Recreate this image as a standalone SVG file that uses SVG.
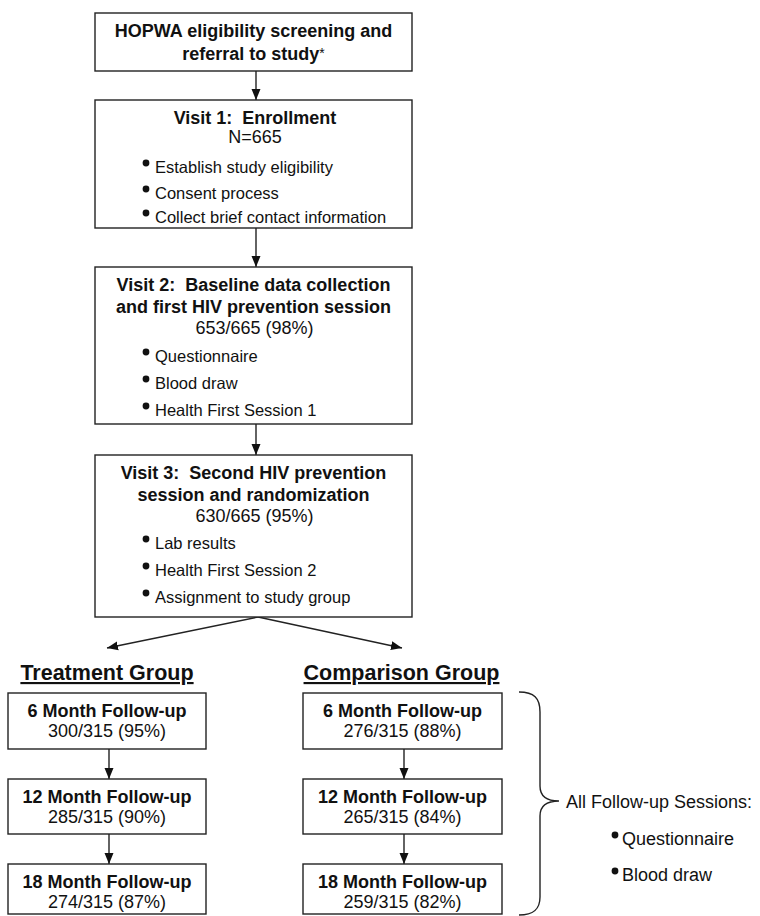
<svg xmlns="http://www.w3.org/2000/svg" width="760" height="916" viewBox="0 0 760 916">
<defs>
<marker id="ah" markerUnits="userSpaceOnUse" markerWidth="12" markerHeight="12" viewBox="0 0 12 12" refX="11" refY="6" orient="auto">
<path d="M0,1.5 L11,6 L0,10.5 Z" fill="#111"/>
</marker>
<style>
.box{fill:#fff;stroke:#222;stroke-width:1.4}
.t{font-family:"Liberation Sans",Arial,sans-serif;font-size:18px;font-weight:bold;fill:#111;text-anchor:middle}
.n{font-family:"Liberation Sans",Arial,sans-serif;font-size:18px;fill:#111;text-anchor:middle}
.b{font-family:"Liberation Sans",Arial,sans-serif;font-size:16.5px;fill:#111}
.h{font-family:"Liberation Sans",Arial,sans-serif;font-size:21.5px;font-weight:bold;fill:#111;text-anchor:middle;text-decoration:underline}
.l{font-family:"Liberation Sans",Arial,sans-serif;font-size:18px;fill:#111}
.c{stroke:#222;stroke-width:1.4;fill:none;marker-end:url(#ah)}
.dot{fill:#111}
</style>
</defs>
<rect width="760" height="916" fill="#fff"/>

<g id="connectors">
<line class="c" x1="256" y1="71" x2="256" y2="100"/>
<line class="c" x1="256" y1="228" x2="256" y2="267"/>
<line class="c" x1="256" y1="424" x2="256" y2="455"/>
<line class="c" x1="258" y1="617" x2="107" y2="648"/>
<line class="c" x1="258" y1="617" x2="402" y2="648"/>
<line class="c" x1="109" y1="749" x2="109" y2="779"/>
<line class="c" x1="109" y1="834" x2="109" y2="864"/>
<line class="c" x1="404" y1="749" x2="404" y2="779"/>
<line class="c" x1="404" y1="834" x2="404" y2="864"/>
</g>

<g id="screening">
<rect class="box" x="95" y="13" width="317" height="58"/>
<text class="t" x="253.5" y="37">HOPWA eligibility screening and</text>
<text class="t" x="253.5" y="60">referral to study<tspan font-weight="normal" font-size="14" dy="-2">*</tspan></text>
</g>

<g id="visit1">
<rect class="box" x="95" y="100" width="317" height="128"/>
<text class="t" x="255" y="124" xml:space="preserve">Visit 1:  Enrollment</text>
<text class="n" x="255" y="143">N=665</text>
<circle class="dot" cx="146" cy="163" r="3.4"/>
<text class="b" x="155" y="173">Establish study eligibility</text>
<circle class="dot" cx="146" cy="189" r="3.4"/>
<text class="b" x="155" y="199">Consent process</text>
<circle class="dot" cx="146" cy="213" r="3.4"/>
<text class="b" x="155" y="223">Collect brief contact information</text>
</g>

<g id="visit2">
<rect class="box" x="95" y="267" width="317" height="157"/>
<text class="t" x="253.5" y="291" xml:space="preserve">Visit 2:  Baseline data collection</text>
<text class="t" x="253.5" y="313">and first HIV prevention session</text>
<text class="n" x="254.5" y="334">653/665 (98%)</text>
<circle class="dot" cx="146" cy="352" r="3.4"/>
<text class="b" x="155" y="362">Questionnaire</text>
<circle class="dot" cx="146" cy="379" r="3.4"/>
<text class="b" x="155" y="389">Blood draw</text>
<circle class="dot" cx="146" cy="406" r="3.4"/>
<text class="b" x="155" y="416">Health First Session 1</text>
</g>

<g id="visit3">
<rect class="box" x="95" y="455" width="317" height="162"/>
<text class="t" x="253.5" y="479" xml:space="preserve">Visit 3:  Second HIV prevention</text>
<text class="t" x="253.5" y="501">session and randomization</text>
<text class="n" x="254.5" y="522">630/665 (95%)</text>
<circle class="dot" cx="146" cy="539" r="3.4"/>
<text class="b" x="155" y="549">Lab results</text>
<circle class="dot" cx="146" cy="566" r="3.4"/>
<text class="b" x="155" y="576">Health First Session 2</text>
<circle class="dot" cx="146" cy="593" r="3.4"/>
<text class="b" x="155" y="603">Assignment to study group</text>
</g>

<g id="treatment-label">
<text class="h" x="107" y="680">Treatment Group</text>
</g>
<g id="comparison-label">
<text class="h" x="401.5" y="680">Comparison Group</text>
</g>

<g id="t6">
<rect class="box" x="8" y="693" width="198" height="56"/>
<text class="t" x="107" y="717">6 Month Follow-up</text>
<text class="n" x="107" y="737">300/315 (95%)</text>
</g>
<g id="t12">
<rect class="box" x="8" y="779" width="198" height="55"/>
<text class="t" x="107" y="803">12 Month Follow-up</text>
<text class="n" x="107" y="823">285/315 (90%)</text>
</g>
<g id="t18">
<rect class="box" x="8" y="864" width="198" height="50"/>
<text class="t" x="107" y="888">18 Month Follow-up</text>
<text class="n" x="107" y="908">274/315 (87%)</text>
</g>

<g id="c6">
<rect class="box" x="303" y="693" width="199" height="56"/>
<text class="t" x="402.5" y="717">6 Month Follow-up</text>
<text class="n" x="402.5" y="737">276/315 (88%)</text>
</g>
<g id="c12">
<rect class="box" x="303" y="779" width="199" height="55"/>
<text class="t" x="402.5" y="803">12 Month Follow-up</text>
<text class="n" x="402.5" y="823">265/315 (84%)</text>
</g>
<g id="c18">
<rect class="box" x="303" y="864" width="199" height="50"/>
<text class="t" x="402.5" y="888">18 Month Follow-up</text>
<text class="n" x="402.5" y="908">259/315 (82%)</text>
</g>

<g id="followup-note">
<path d="M519,692 C534,692 540,698 540,712 L540,786 C540,796 546,801 559,801 C546,801 540,806 540,816 L540,897 C540,909 534,915 519,915" fill="none" stroke="#222" stroke-width="1.4"/>
<text class="l" x="566" y="808">All Follow-up Sessions:</text>
<circle class="dot" cx="615" cy="835" r="3.4"/>
<text class="l" x="622" y="845">Questionnaire</text>
<circle class="dot" cx="615" cy="871" r="3.4"/>
<text class="l" x="622" y="881">Blood draw</text>
</g>
</svg>
